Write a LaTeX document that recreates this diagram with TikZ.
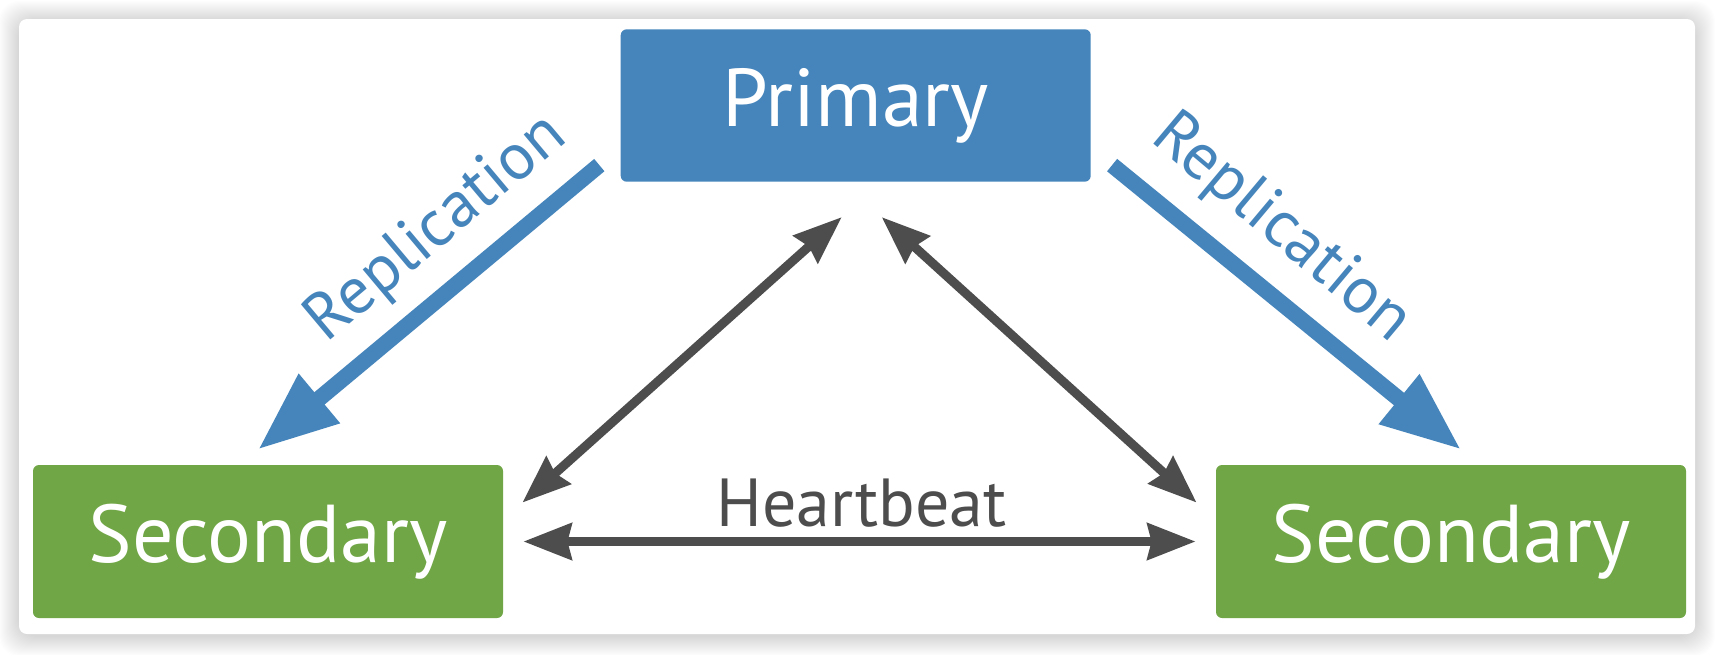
\documentclass[tikz,border=0pt]{standalone}
\usepackage{fontspec}
\setmainfont{PT Sans}
\usetikzlibrary{arrows.meta,calc}
\definecolor{pblue}{RGB}{69,133,188}
\definecolor{sgreen}{RGB}{112,166,69}
\definecolor{agray}{RGB}{77,77,77}
\tikzset{
  box/.style={rounded corners=3pt, minimum width=235pt, minimum height=76.5pt, inner sep=0pt,
    text=white, font=\fontsize{41}{41}\selectfont},
  hb/.style={draw=agray, line width=4.5pt,
    {Stealth[length=24pt,width=18pt,inset=2pt]}-{Stealth[length=24pt,width=18pt,inset=2pt]}},
  rep/.style={draw=pblue, line width=8pt, -{Triangle[length=40pt,width=30pt]}},
  replabel/.style={text=pblue, font=\fontsize{33}{33}\selectfont, inner sep=0pt},
}
\begin{document}
\begin{tikzpicture}[x=0.5pt,y=-0.5pt]
\useasboundingbox (0,0) rectangle (1716,654);
\fill[white] (0,0) rectangle (1716,654);
% card shadow
\foreach \i in {1,...,20}{
  \fill[black,opacity=0.006,rounded corners=10pt] (19-\i,19-\i+2) rectangle (1695+\i,634+\i+2);
}
\fill[white,rounded corners=4pt] (19,19) rectangle (1695,634);
% boxes
\node[box, fill=pblue, minimum height=76.2pt] (prim) at (855.7,105.5) {Primary};
\node[box, fill=sgreen] (secL) at (268,541.5) {Secondary};
\node[box, fill=sgreen] (secR) at (1451,541.5) {Secondary};
% heartbeat
\coordinate (hL) at ($(secL.east)+(20,0)$);
\coordinate (hR) at ($(secR.west)+(-20,0)$);
\draw[hb] (hL) -- (hR);
\node[anchor=base, text=agray, font=\fontsize{34}{34}\selectfont, inner sep=0pt] (hbtext)
  at ($(hL)!0.5!(hR)+(2,-15)$) {Heartbeat};
\coordinate (dLb) at ($(secL.north east)+(19,38)$);
\coordinate (dLt) at ($(prim.south)+(-14,35)$);
\coordinate (dRt) at ($(prim.south)+(26,35)$);
\coordinate (dRb) at ($(secR.north west)+(-19,38)$);
\draw[hb] (dLb) -- (dLt);
\draw[hb] (dRt) -- (dRb);
% replication
\coordinate (rLs) at ($(prim.south west)+(-21,-17)$);
\coordinate (rLe) at ($(secL.north)+(-10,-15)$);
\coordinate (rRs) at ($(prim.south east)+(21,-17)$);
\coordinate (rRe) at ($(secR.north)+(10,-15)$);
\draw[rep] (rLs) -- (rLe);
\draw[rep] (rRs) -- (rRe);
\node[replabel, rotate=40] (repL) at (437,229) {Replication};
\node[replabel, rotate=-40] (repR) at (1281,229) {Replication};
\end{tikzpicture}
\end{document}
